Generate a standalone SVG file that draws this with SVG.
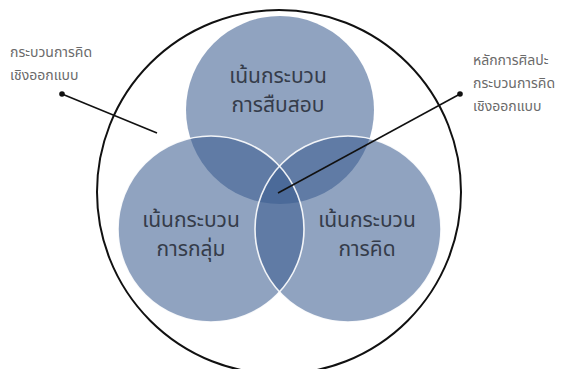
<svg xmlns="http://www.w3.org/2000/svg" width="570" height="369" viewBox="0 0 570 369">
<style>
.venn{fill:#3b5e91;fill-opacity:0.57}
.edge{fill:none;stroke:#ffffff;stroke-width:1.6;stroke-opacity:0.9}
.ct{font-family:"Noto Sans Thai","Noto Sans","DejaVu Sans",sans-serif;font-size:21px;fill:#353c4a;text-anchor:middle}
.lb{font-family:"Noto Sans Thai","Noto Sans","DejaVu Sans",sans-serif;font-size:14px;fill:#6a6a6a}
.ln{stroke:#111;stroke-width:1.5;fill:none}
</style>
<rect width="570" height="369" fill="#ffffff"/>
<g id="outer">
<circle cx="279" cy="192" r="182" fill="none" stroke="#111" stroke-width="2"/>
</g>
<g id="inquiry">
<circle class="venn" cx="280" cy="110" r="94"/>
<text class="ct" x="278" y="83">เน้นกระบวน</text>
<text class="ct" x="278" y="112">การสืบสอบ</text>
</g>
<g id="group">
<circle class="venn" cx="211" cy="229" r="93"/>
</g>
<g id="thinking">
<circle class="venn" cx="348" cy="229" r="93"/>
</g>
<g id="edges">
<circle class="edge" cx="211" cy="229" r="93"/>
<circle class="edge" cx="348" cy="229" r="93"/>
</g>
<g id="labels">
<text class="ct" x="191" y="227">เน้นกระบวน</text>
<text class="ct" x="191" y="256">การกลุ่ม</text>
<text class="ct" x="367" y="227">เน้นกระบวน</text>
<text class="ct" x="367" y="256">การคิด</text>
</g>
<g id="connectors">
<line class="ln" x1="62" y1="94" x2="157" y2="133"/>
<circle cx="62" cy="94" r="2.8" fill="#111"/>
<line class="ln" x1="460" y1="94" x2="278" y2="193"/>
<circle cx="460" cy="94" r="2.8" fill="#111"/>
</g>
<g id="callout-left">
<text class="lb" x="10" y="57">กระบวนการคิด</text>
<text class="lb" x="10" y="80">เชิงออกแบบ</text>
</g>
<g id="callout-right">
<text class="lb" x="473" y="65">หลักการศิลปะ</text>
<text class="lb" x="473" y="88">กระบวนการคิด</text>
<text class="lb" x="473" y="111">เชิงออกแบบ</text>
</g>
</svg>
